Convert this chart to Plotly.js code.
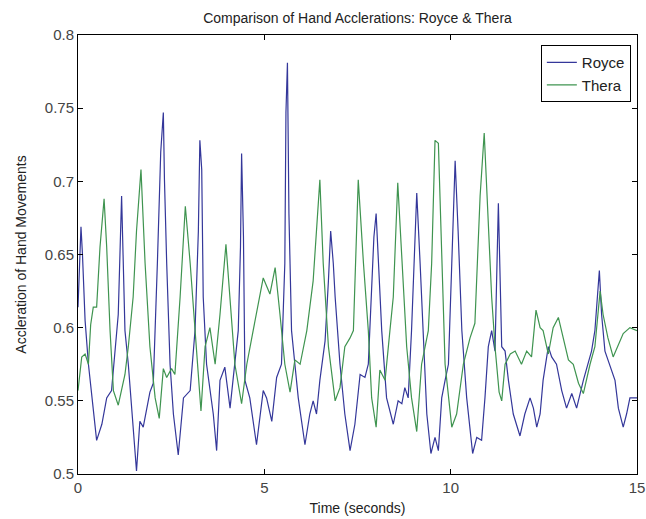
<!DOCTYPE html>
<html>
<head>
<meta charset="utf-8">
<script src="https://cdn.plot.ly/plotly-3.0.1.min.js"></script>
<style>html,body{margin:0;padding:0;background:#fff;}#chart{width:646px;height:519px;}</style>
</head>
<body>
<div id="chart"></div>
<script>
const royceTime = [0.0,0.08,0.12,0.19,0.28,0.37,0.50,0.64,0.77,0.90,1.04,1.08,1.17,1.22,1.26,1.35,1.44,1.57,1.66,1.75,1.93,2.02,2.13,2.22,2.29,2.32,2.38,2.47,2.56,2.69,2.83,3.01,3.14,3.23,3.27,3.32,3.36,3.45,3.63,3.72,3.81,3.94,4.08,4.21,4.30,4.36,4.39,4.44,4.48,4.61,4.79,4.97,5.06,5.20,5.33,5.46,5.55,5.58,5.62,5.66,5.73,5.82,5.91,6.09,6.22,6.31,6.40,6.49,6.63,6.72,6.78,6.85,6.90,7.03,7.16,7.30,7.43,7.57,7.70,7.79,7.88,7.94,8.00,8.06,8.15,8.28,8.46,8.59,8.69,8.77,8.86,8.95,9.04,9.09,9.18,9.26,9.36,9.47,9.58,9.67,9.76,9.85,9.94,10.03,10.12,10.20,10.30,10.43,10.59,10.70,10.83,10.92,11.01,11.10,11.19,11.28,11.37,11.46,11.55,11.68,11.86,11.99,12.13,12.22,12.31,12.40,12.48,12.62,12.71,12.84,12.98,13.11,13.25,13.38,13.56,13.78,13.87,13.99,14.05,14.14,14.27,14.41,14.50,14.63,14.72,14.81,15.0];
const royceAccel = [0.614,0.669,0.650,0.605,0.575,0.552,0.523,0.534,0.552,0.557,0.598,0.609,0.690,0.644,0.598,0.575,0.545,0.502,0.536,0.532,0.556,0.562,0.644,0.720,0.747,0.701,0.644,0.575,0.541,0.513,0.552,0.557,0.598,0.666,0.728,0.708,0.621,0.575,0.541,0.516,0.564,0.573,0.545,0.575,0.598,0.655,0.719,0.662,0.564,0.552,0.520,0.557,0.552,0.536,0.566,0.575,0.644,0.747,0.781,0.678,0.598,0.575,0.552,0.520,0.541,0.550,0.541,0.564,0.591,0.632,0.666,0.644,0.621,0.575,0.541,0.516,0.534,0.568,0.566,0.575,0.621,0.662,0.678,0.644,0.598,0.552,0.534,0.550,0.548,0.559,0.552,0.598,0.666,0.692,0.644,0.598,0.541,0.514,0.525,0.516,0.552,0.564,0.575,0.644,0.714,0.666,0.598,0.552,0.514,0.525,0.523,0.552,0.587,0.598,0.584,0.685,0.587,0.584,0.564,0.541,0.526,0.541,0.552,0.545,0.532,0.541,0.564,0.587,0.580,0.575,0.557,0.545,0.555,0.545,0.564,0.584,0.598,0.639,0.609,0.584,0.575,0.564,0.545,0.532,0.541,0.552,0.552];

const theraTime = [0.0,0.10,0.19,0.28,0.34,0.41,0.50,0.59,0.70,0.77,0.86,0.95,1.08,1.17,1.26,1.35,1.48,1.57,1.69,1.80,1.93,2.07,2.18,2.29,2.38,2.51,2.60,2.74,2.88,3.01,3.14,3.30,3.41,3.54,3.68,3.81,3.97,4.08,4.21,4.39,4.53,4.70,4.97,5.15,5.29,5.42,5.55,5.69,5.82,5.96,6.14,6.31,6.49,6.58,6.72,6.90,7.03,7.16,7.30,7.39,7.43,7.52,7.66,7.79,7.88,8.00,8.10,8.24,8.37,8.46,8.58,8.69,8.82,8.95,9.09,9.22,9.40,9.49,9.58,9.67,9.76,9.85,10.03,10.16,10.34,10.52,10.65,10.79,10.90,11.01,11.10,11.19,11.30,11.37,11.46,11.60,11.73,11.90,12.04,12.17,12.29,12.40,12.48,12.62,12.75,12.89,13.02,13.16,13.29,13.43,13.56,13.74,13.87,14.01,14.09,14.22,14.36,14.50,14.63,14.81,15.0];
const theraAccel = [0.557,0.580,0.582,0.575,0.602,0.614,0.614,0.655,0.688,0.655,0.598,0.557,0.547,0.557,0.568,0.587,0.621,0.666,0.708,0.644,0.587,0.552,0.538,0.572,0.566,0.572,0.568,0.621,0.683,0.644,0.598,0.543,0.587,0.600,0.575,0.609,0.657,0.621,0.575,0.548,0.575,0.598,0.634,0.623,0.641,0.609,0.575,0.556,0.578,0.575,0.598,0.632,0.701,0.644,0.587,0.550,0.559,0.587,0.593,0.598,0.632,0.701,0.644,0.598,0.552,0.532,0.571,0.564,0.598,0.621,0.699,0.644,0.587,0.552,0.529,0.575,0.598,0.644,0.728,0.726,0.644,0.575,0.532,0.541,0.575,0.593,0.603,0.690,0.733,0.666,0.621,0.587,0.556,0.550,0.575,0.582,0.584,0.575,0.584,0.580,0.612,0.600,0.598,0.582,0.600,0.607,0.593,0.578,0.575,0.562,0.555,0.575,0.587,0.625,0.609,0.593,0.580,0.589,0.596,0.600,0.598];

const xTickVals = [0, 5, 10, 15];
const xTickText = ['0', '5', '10', '15'];
const yTickVals = [0.5, 0.55, 0.6, 0.65, 0.7, 0.75, 0.8];
const yTickText = ['0.5', '0.55', '0.6', '0.65', '0.7', '0.75', '0.8'];

const FONT = '"Liberation Sans Narrow", "Liberation Sans", Arial, sans-serif';

const traces = [
  {x: royceTime, y: royceAccel, name: 'Royce', type: 'scatter', mode: 'lines',
   line: {color: '#34379a', width: 1.2}},
  {x: theraTime, y: theraAccel, name: 'Thera', type: 'scatter', mode: 'lines',
   line: {color: '#3f9450', width: 1.2}}
];

const axisCommon = {
  showline: true, linecolor: '#000', linewidth: 1, mirror: 'ticks',
  ticks: 'inside', ticklen: 5, tickcolor: '#000', tickwidth: 1,
  showgrid: false, zeroline: false,
  tickfont: {family: FONT, size: 15, color: '#444'}
};

const layout = {
  width: 646, height: 519,
  margin: {l: 78, r: 9, t: 35, b: 45},
  paper_bgcolor: '#fff', plot_bgcolor: '#fff',
  font: {family: FONT, color: '#222'},
  title: {text: 'Comparison of Hand Acclerations: Royce &amp; Thera',
          font: {family: FONT, size: 14, color: '#222'},
          x: 0.5, xref: 'paper', y: 0.965, yanchor: 'middle'},
  xaxis: Object.assign({}, axisCommon, {
    range: [0, 15], tickvals: xTickVals, ticktext: xTickText,
    title: {text: 'Time (seconds)', font: {family: FONT, size: 14, color: '#222'}, standoff: 8}
  }),
  yaxis: Object.assign({}, axisCommon, {
    range: [0.5, 0.8], tickvals: yTickVals, ticktext: yTickText,
    title: {text: 'Accleration of Hand Movements', font: {family: FONT, size: 14, color: '#222'}, standoff: 14}
  }),
  showlegend: true,
  legend: {x: 0.989, y: 0.977, xanchor: 'right', yanchor: 'top',
           bordercolor: '#000', borderwidth: 1, bgcolor: '#fff',
           font: {family: FONT, size: 15, color: '#222'},
           tracegroupgap: 0}
};

Plotly.newPlot('chart', traces, layout, {staticPlot: true, displayModeBar: false});
</script>
</body>
</html>
